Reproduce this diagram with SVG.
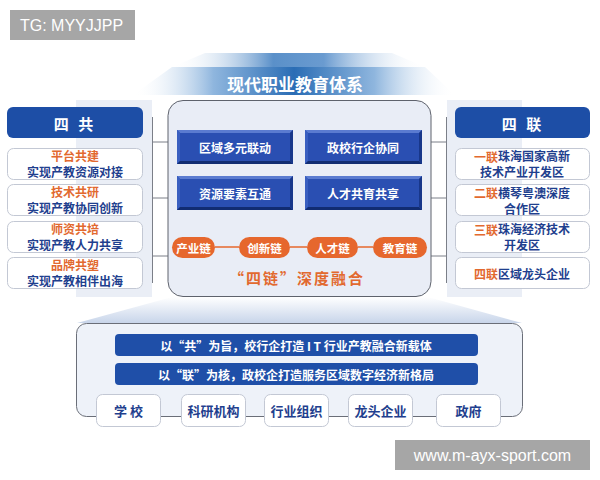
<svg xmlns="http://www.w3.org/2000/svg" width="600" height="480" viewBox="0 0 600 480">
<defs>
<linearGradient id="gTitle" x1="0" y1="0" x2="1" y2="0">
<stop offset="0" stop-color="#ffffff" stop-opacity="0"/>
<stop offset="0.25" stop-color="#8fb6de"/>
<stop offset="0.5" stop-color="#2a6db5"/>
<stop offset="0.75" stop-color="#8fb6de"/>
<stop offset="1" stop-color="#ffffff" stop-opacity="0"/>
</linearGradient>
<linearGradient id="gTitleBack" x1="0" y1="0" x2="1" y2="0">
<stop offset="0" stop-color="#ffffff" stop-opacity="0"/>
<stop offset="0.4" stop-color="#5a90c9"/>
<stop offset="0.6" stop-color="#6a9bd0"/>
<stop offset="1" stop-color="#ffffff" stop-opacity="0"/>
</linearGradient>
<linearGradient id="gBase" x1="0" y1="0" x2="0" y2="1">
<stop offset="0" stop-color="#ffffff"/>
<stop offset="1" stop-color="#c8d5ea"/>
</linearGradient>
<style>
.cjk{font-family:"Noto Sans CJK SC","Noto Sans",sans-serif;font-weight:bold;}
.wm{font-family:"Liberation Sans","DejaVu Sans",sans-serif;fill:#ffffff;font-size:16px;}
.panel{fill:#eaeef6;}
.head{fill:#1d4ea6;}
.card{fill:#ffffff;stroke:#c3c8d4;stroke-width:1;}
.or{fill:#e2692f;}
.db{fill:#1f3f8e;}
.wt{fill:#ffffff;}
.bv-in{fill:#2a4fb2;}
.bv-t{fill:#5a7bd0;}
.bv-l{fill:#3a5fc0;}
.bv-b{fill:#112c72;}
.bv-r{fill:#18378a;}
.pill{fill:#e6672d;}
.ln{stroke:#7b7f88;stroke-width:1;fill:none;}
.oln{stroke:#e6672d;stroke-width:1.5;fill:none;}
.banner{fill:#1f4fa8;}
</style>
</defs>
<rect width="600" height="480" fill="#ffffff"/>

<!-- title banner -->
<g id="title">
<polygon points="205,53 392,53 425,67 172,67" fill="url(#gTitleBack)"/>
<polygon points="172,67 425,67 455,95 133,95" fill="url(#gTitle)"/>
<text class="cjk wt" x="295" y="83" font-size="17" text-anchor="middle" dominant-baseline="central">现代职业教育体系</text>
</g>

<!-- background panels -->
<rect class="panel" x="76" y="100" width="76" height="197"/>
<rect class="panel" x="447" y="100" width="75" height="197"/>

<!-- base trapezoid and box -->
<g id="base">
<polygon points="172,297 428,297 522,323 77,323" fill="url(#gBase)"/>
<rect x="76.5" y="323.5" width="446" height="93" rx="10" fill="#eef2f9" stroke="#6a6e78" stroke-width="1"/>
</g>

<!-- connectors -->
<g id="connectors">
<line class="ln" x1="152.5" y1="117" x2="152.5" y2="283"/>
<line class="ln" x1="152.5" y1="142" x2="168" y2="142"/>
<line class="ln" x1="152.5" y1="198" x2="168" y2="198"/>
<line class="ln" x1="152.5" y1="256" x2="168" y2="256"/>
<line class="ln" x1="446.5" y1="117" x2="446.5" y2="283"/>
<line class="ln" x1="431" y1="142" x2="446.5" y2="142"/>
<line class="ln" x1="431" y1="198" x2="446.5" y2="198"/>
<line class="ln" x1="431" y1="256" x2="446.5" y2="256"/>
</g>

<!-- center box -->
<g id="center">
<rect x="168" y="100.5" width="263" height="196" rx="15" fill="#e9edf6" stroke="#5e626c" stroke-width="1"/>
</g>

<g id="box1">
<rect class="bv-in" x="177" y="130" width="116" height="34"/>
<polygon class="bv-t" points="177,130 293,130 290,133 180,133"/>
<polygon class="bv-l" points="177,130 180,133 180,161 177,164"/>
<polygon class="bv-b" points="177,164 293,164 290,161 180,161"/>
<polygon class="bv-r" points="293,130 293,164 290,161 290,133"/>
<text class="cjk wt" x="235" y="147" font-size="12" text-anchor="middle" dominant-baseline="central">区域多元联动</text>
</g>
<g id="box2">
<rect class="bv-in" x="305" y="130" width="117" height="34"/>
<polygon class="bv-t" points="305,130 422,130 419,133 308,133"/>
<polygon class="bv-l" points="305,130 308,133 308,161 305,164"/>
<polygon class="bv-b" points="305,164 422,164 419,161 308,161"/>
<polygon class="bv-r" points="422,130 422,164 419,161 419,133"/>
<text class="cjk wt" x="363" y="147" font-size="12" text-anchor="middle" dominant-baseline="central">政校行企协同</text>
</g>
<g id="box3">
<rect class="bv-in" x="177" y="176" width="116" height="34"/>
<polygon class="bv-t" points="177,176 293,176 290,179 180,179"/>
<polygon class="bv-l" points="177,176 180,179 180,207 177,210"/>
<polygon class="bv-b" points="177,210 293,210 290,207 180,207"/>
<polygon class="bv-r" points="293,176 293,210 290,207 290,179"/>
<text class="cjk wt" x="235" y="193" font-size="12" text-anchor="middle" dominant-baseline="central">资源要素互通</text>
</g>
<g id="box4">
<rect class="bv-in" x="305" y="176" width="117" height="34"/>
<polygon class="bv-t" points="305,176 422,176 419,179 308,179"/>
<polygon class="bv-l" points="305,176 308,179 308,207 305,210"/>
<polygon class="bv-b" points="305,210 422,210 419,207 308,207"/>
<polygon class="bv-r" points="422,176 422,210 419,207 419,179"/>
<text class="cjk wt" x="363" y="193" font-size="12" text-anchor="middle" dominant-baseline="central">人才共育共享</text>
</g>

<!-- chain pills -->
<g id="chainlinks">
<line class="oln" x1="215" y1="247" x2="239" y2="247"/>
<line class="oln" x1="290" y1="247" x2="307" y2="247"/>
<line class="oln" x1="358" y1="247" x2="373" y2="247"/>
</g>
<g id="pill1">
<rect class="pill" x="172" y="237" width="43" height="21" rx="10.5"/>
<text class="cjk wt" x="193.5" y="247.5" font-size="11.5" text-anchor="middle" dominant-baseline="central">产业链</text>
</g>
<g id="pill2">
<rect class="pill" x="239" y="237" width="51" height="21" rx="10.5"/>
<text class="cjk wt" x="264.5" y="247.5" font-size="11.5" text-anchor="middle" dominant-baseline="central">创新链</text>
</g>
<g id="pill3">
<rect class="pill" x="307" y="237" width="51" height="21" rx="10.5"/>
<text class="cjk wt" x="332.5" y="247.5" font-size="11.5" text-anchor="middle" dominant-baseline="central">人才链</text>
</g>
<g id="pill4">
<rect class="pill" x="373" y="237" width="54" height="21" rx="10.5"/>
<text class="cjk wt" x="400" y="247.5" font-size="11.5" text-anchor="middle" dominant-baseline="central">教育链</text>
</g>
<text class="cjk or" x="297" y="277" font-size="15" letter-spacing="2" text-anchor="middle" dominant-baseline="central">“四链”深度融合</text>

<!-- left column -->
<g id="left-head">
<rect class="head" x="7" y="107" width="136" height="31" rx="6"/>
<text class="cjk wt" x="75" y="123" font-size="15" text-anchor="middle" dominant-baseline="central" letter-spacing="3">四 共</text>
</g>
<g id="left1">
<rect class="card" x="7.5" y="148.5" width="135" height="31" rx="6"/>
<text class="cjk or" x="75" y="155" font-size="12" text-anchor="middle" dominant-baseline="central">平台共建</text>
<text class="cjk db" x="75" y="171" font-size="12" text-anchor="middle" dominant-baseline="central">实现产教资源对接</text>
</g>
<g id="left2">
<rect class="card" x="7.5" y="184.5" width="135" height="31" rx="6"/>
<text class="cjk or" x="75" y="191" font-size="12" text-anchor="middle" dominant-baseline="central">技术共研</text>
<text class="cjk db" x="75" y="207" font-size="12" text-anchor="middle" dominant-baseline="central">实现产教协同创新</text>
</g>
<g id="left3">
<rect class="card" x="7.5" y="221.5" width="135" height="31" rx="6"/>
<text class="cjk or" x="75" y="228" font-size="12" text-anchor="middle" dominant-baseline="central">师资共培</text>
<text class="cjk db" x="75" y="244" font-size="12" text-anchor="middle" dominant-baseline="central">实现产教人力共享</text>
</g>
<g id="left4">
<rect class="card" x="7.5" y="257.5" width="135" height="31" rx="6"/>
<text class="cjk or" x="75" y="264" font-size="12" text-anchor="middle" dominant-baseline="central">品牌共塑</text>
<text class="cjk db" x="75" y="280" font-size="12" text-anchor="middle" dominant-baseline="central">实现产教相伴出海</text>
</g>

<!-- right column -->
<g id="right-head">
<rect class="head" x="455" y="107" width="135" height="31" rx="6"/>
<text class="cjk wt" x="523" y="123" font-size="15" text-anchor="middle" dominant-baseline="central" letter-spacing="3">四 联</text>
</g>
<g id="right1">
<rect class="card" x="455.5" y="148.5" width="134" height="31" rx="6"/>
<text class="cjk db" x="522" y="155.5" font-size="12" text-anchor="middle" dominant-baseline="central"><tspan class="or">一联</tspan>珠海国家高新</text>
<text class="cjk db" x="522" y="171.5" font-size="12" text-anchor="middle" dominant-baseline="central">技术产业开发区</text>
</g>
<g id="right2">
<rect class="card" x="455.5" y="184.5" width="134" height="31" rx="6"/>
<text class="cjk db" x="522" y="192" font-size="12" text-anchor="middle" dominant-baseline="central"><tspan class="or">二联</tspan>横琴粤澳深度</text>
<text class="cjk db" x="522" y="208" font-size="12" text-anchor="middle" dominant-baseline="central">合作区</text>
</g>
<g id="right3">
<rect class="card" x="455.5" y="221.5" width="134" height="31" rx="6"/>
<text class="cjk db" x="522" y="228.5" font-size="12" text-anchor="middle" dominant-baseline="central"><tspan class="or">三联</tspan>珠海经济技术</text>
<text class="cjk db" x="522" y="244.5" font-size="12" text-anchor="middle" dominant-baseline="central">开发区</text>
</g>
<g id="right4">
<rect class="card" x="455.5" y="257.5" width="134" height="31" rx="6"/>
<text class="cjk db" x="522" y="273" font-size="12" text-anchor="middle" dominant-baseline="central"><tspan class="or">四联</tspan>区域龙头企业</text>
</g>

<!-- bottom banners -->
<g id="banner1">
<rect class="banner" x="115" y="334" width="363" height="22" rx="4"/>
<text class="cjk wt" x="296" y="345" font-size="12" text-anchor="middle" dominant-baseline="central">以“共”为旨，校行企打造 I T 行业产教融合新载体</text>
</g>
<g id="banner2">
<rect class="banner" x="115" y="363" width="363" height="22" rx="4"/>
<text class="cjk wt" x="296" y="374" font-size="12" text-anchor="middle" dominant-baseline="central">以“联”为核，政校企打造服务区域数字经济新格局</text>
</g>

<!-- bottom tabs -->
<g id="tab1">
<rect class="card" x="96.5" y="394.5" width="64" height="32" rx="6"/>
<text class="cjk db" x="128.5" y="410" font-size="13" text-anchor="middle" dominant-baseline="central">学 校</text>
</g>
<g id="tab2">
<rect class="card" x="181.5" y="394.5" width="64" height="32" rx="6"/>
<text class="cjk db" x="213.5" y="410" font-size="13" text-anchor="middle" dominant-baseline="central">科研机构</text>
</g>
<g id="tab3">
<rect class="card" x="264.5" y="394.5" width="64" height="32" rx="6"/>
<text class="cjk db" x="296.5" y="410" font-size="13" text-anchor="middle" dominant-baseline="central">行业组织</text>
</g>
<g id="tab4">
<rect class="card" x="348.5" y="394.5" width="64" height="32" rx="6"/>
<text class="cjk db" x="380.5" y="410" font-size="13" text-anchor="middle" dominant-baseline="central">龙头企业</text>
</g>
<g id="tab5">
<rect class="card" x="436.5" y="394.5" width="64" height="32" rx="6"/>
<text class="cjk db" x="468.5" y="410" font-size="13" text-anchor="middle" dominant-baseline="central">政府</text>
</g>

<!-- watermarks -->
<g id="wm1">
<rect x="10" y="10" width="125" height="30" fill="#a6a6a6"/>
<text class="wm" x="20" y="25" dominant-baseline="central">TG: MYYJJPP</text>
</g>
<g id="wm2">
<rect x="395" y="440" width="195" height="30" fill="#a6a6a6"/>
<text class="wm" x="492.5" y="455" text-anchor="middle" dominant-baseline="central">www.m-ayx-sport.com</text>
</g>
</svg>
